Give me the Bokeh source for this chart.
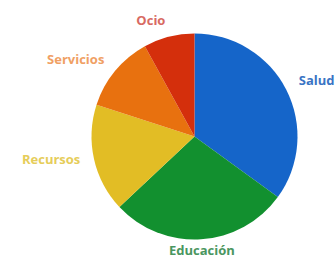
import numpy as np
from bokeh.plotting import figure
from bokeh.models import ColumnDataSource, Range1d
from bokeh.embed import file_html
from bokeh.resources import INLINE
from bokeh.core.properties import value

categories = ["Salud", "Educación", "Recursos", "Servicios", "Ocio"]
values = [35, 28, 17, 12, 8]
colors = ["#1565c9", "#12902f", "#e2bd25", "#e8710f", "#d42f0c"]
label_colors = ["#3a74c4", "#4a9660", "#e6cd5a", "#f0a064", "#d86a62"]

W, H = 335, 261
p = figure(width=W, height=H, x_range=Range1d(0, W), y_range=Range1d(0, H),
           output_backend="svg", toolbar_location=None, min_border=0)
p.axis.visible = False
p.grid.visible = False
p.outline_line_color = None
p.background_fill_color = "white"

cx, cy, r = 194, 125, 103
vals = np.array(values, dtype=float)
frac = vals / vals.sum()
cum = np.concatenate([[0], np.cumsum(frac)])
start = np.pi / 2 - 2 * np.pi * cum[:-1]
end = np.pi / 2 - 2 * np.pi * cum[1:]

src = ColumnDataSource(dict(start=start, end=end, color=colors, cat=categories))
p.wedge(x=cx, y=cy, radius=r, start_angle="start", end_angle="end",
        direction="clock", fill_color="color", line_color=None, source=src)

mid = (start + end) / 2
R = 117
lx = cx + R * np.cos(mid)
ly = cy + R * np.sin(mid) + 3
aligns = ["left" if c > 0.1 else ("right" if c < -0.1 else "center") for c in np.cos(mid)]
lsrc = ColumnDataSource(dict(x=lx, y=ly, text=categories, color=label_colors, align=aligns))
p.text(x="x", y="y", text="text", text_color="color", text_align="align",
       text_baseline="middle", text_font=value("Open Sans"), text_font_size="13px",
       text_font_style="bold", source=lsrc)

open("out.html", "w").write(file_html(p, INLINE))
